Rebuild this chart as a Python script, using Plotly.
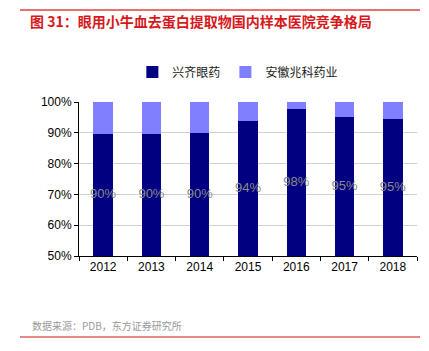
import plotly.graph_objects as go

years = ["2012", "2013", "2014", "2015", "2016", "2017", "2018"]
xingqi = [0.897, 0.897, 0.898, 0.937, 0.977, 0.951, 0.945]
anhui = [1 - v for v in xingqi]
label_text = ["90%", "90%", "90%", "94%", "98%", "95%", "95%"]
y_ticks = [0.5, 0.6, 0.7, 0.8, 0.9, 1.0]
y_tick_text = ["50%", "60%", "70%", "80%", "90%", "100%"]

W, H = 429, 351
L, R, T, B = 79, 12, 102, 95
pw, ph = W - L - R, H - T - B

def px(x):
    return (x - L) / pw

def py(y):
    return (H - B - y) / ph

fig = go.Figure()
fig.add_trace(go.Bar(x=years, y=xingqi, name="兴齐眼药", marker_color="#000080",
                     marker_line_width=0, hoverinfo="skip"))
fig.add_trace(go.Bar(x=years, y=anhui, name="安徽兆科药业", marker_color="#8080FF",
                     marker_line_width=0, hoverinfo="skip"))
fig.add_trace(go.Scatter(x=years, y=[(0.5 + v) / 2 for v in xingqi], mode="text",
                         text=label_text, showlegend=False, hoverinfo="skip",
                         textfont=dict(family="Liberation Sans, Arial", size=13, color="#8a8a8a")))

font_cjk = "Noto Sans CJK SC"
fig.update_layout(
    width=W, height=H,
    barmode="stack", bargap=0.6,
    plot_bgcolor="white", paper_bgcolor="white",
    margin=dict(l=L, r=R, t=T, b=B),
    showlegend=True,
    legend=dict(orientation="h", x=0.47, xanchor="center", y=py(72), yanchor="middle",
                traceorder="normal",
                font=dict(family=font_cjk, size=12, color="#222"),
                itemwidth=30, tracegroupgap=0, itemsizing="constant"),
    xaxis=dict(type="category", showline=True, linecolor="black", linewidth=1,
               ticks="outside", tickson="boundaries", ticklen=4, tickcolor="black",
               tickfont=dict(family="Liberation Sans, Arial", size=12, color="black"),
               showgrid=False, fixedrange=True),
    yaxis=dict(range=[0.5, 1.0], tickvals=y_ticks, ticktext=y_tick_text,
               showline=True, linecolor="black", linewidth=1,
               ticks="outside", ticklen=4, tickcolor="black",
               tickfont=dict(family="Liberation Sans, Arial", size=12, color="black"),
               showgrid=True, gridcolor="#d0d0d0", gridwidth=1, zeroline=False,
               fixedrange=True),
    title=dict(text="<b>图 31：眼用小牛血去蛋白提取物国内样本医院竞争格局</b>",
               x=30 / W, xanchor="left", y=1 - 22 / H, yanchor="middle",
               font=dict(family=font_cjk, size=14, color="#D7191C")),
    shapes=[
        dict(type="line", xref="paper", yref="paper", x0=px(20), x1=px(420),
             y0=py(10), y1=py(10), line=dict(color="#E0403F", width=1.5)),
        dict(type="line", xref="paper", yref="paper", x0=px(20), x1=px(420),
             y0=py(337), y1=py(337), line=dict(color="#E06060", width=1.5)),
    ],
    annotations=[
        dict(text="数据来源：PDB，东方证券研究所", xref="paper", yref="paper",
             x=px(30), y=py(325), xanchor="left", yanchor="middle", showarrow=False,
             font=dict(family=font_cjk, size=10, color="#999999")),
    ],
)

fig.write_html("out.html")
